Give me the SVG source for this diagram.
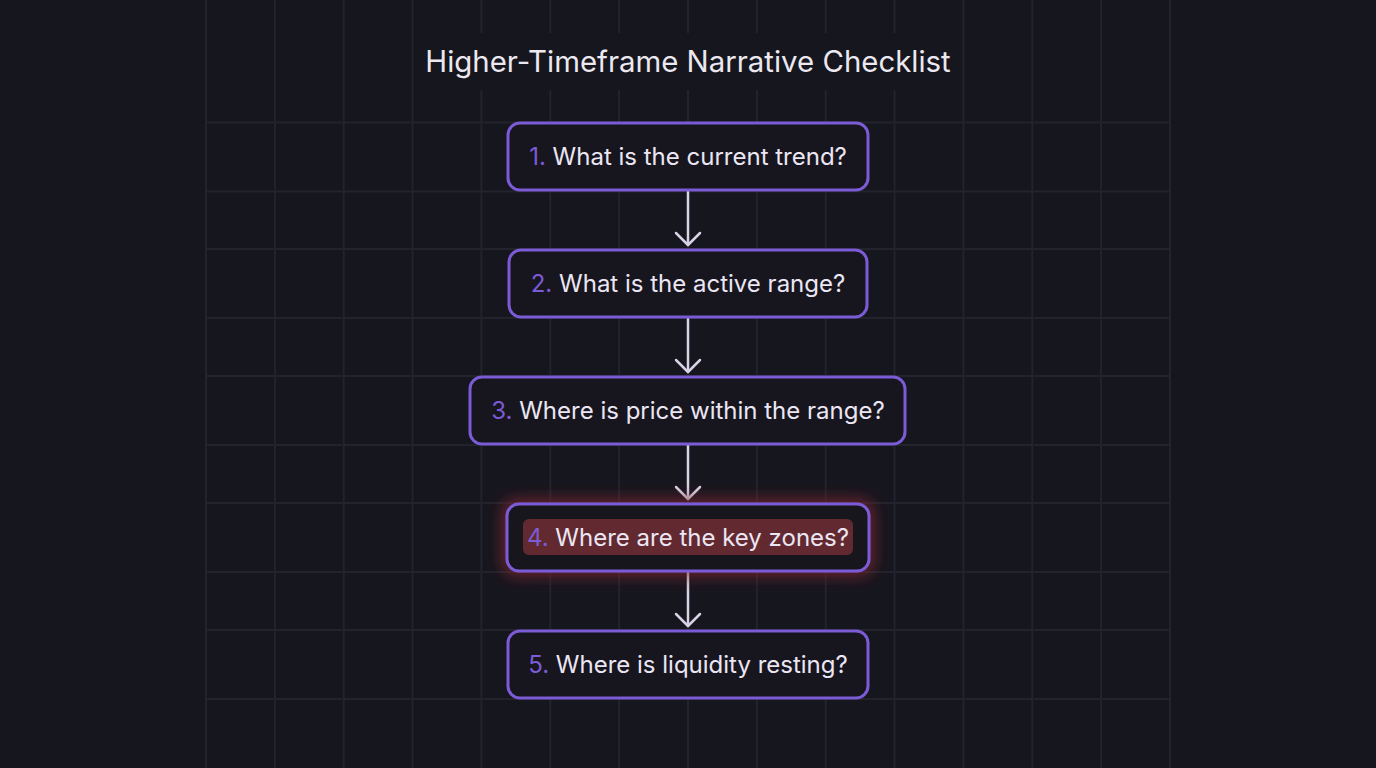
<svg xmlns="http://www.w3.org/2000/svg" width="1376" height="768" viewBox="0 0 1376 768">
  <defs>
    <style>
      .grid line { stroke: #23232d; stroke-width: 2; }
      .node { fill: #17161f; stroke: #7b5bd6; stroke-width: 3; }
      .label { font-family: Inter, "Noto Sans", "Liberation Sans", sans-serif; font-size: 24px; font-weight: 400; fill: #ece6f4; text-anchor: middle; }
      .num { fill: #7b5bd6; }
      .title { font-family: Inter, "Noto Sans", "Liberation Sans", sans-serif; font-size: 29.4px; font-weight: 400; fill: #ece8f0; text-anchor: middle; }
      .conn line, .conn polyline { stroke: #d9d1e6; stroke-width: 2.5; fill: none; stroke-linecap: round; stroke-linejoin: round; }
    </style>
    <filter id="glow2" x="-20%" y="-60%" width="140%" height="220%">
      <feMorphology in="SourceAlpha" operator="dilate" radius="3" result="d"/>
      <feGaussianBlur in="d" stdDeviation="8" result="b"/>
      <feFlood flood-color="#7e2630" flood-opacity="0.85"/>
      <feComposite operator="in" in2="b" result="g"/>
      <feMerge><feMergeNode in="g"/><feMergeNode in="SourceGraphic"/></feMerge>
    </filter>
  </defs>

  <rect x="0" y="0" width="1376" height="768" fill="#16161e"/>

  <g class="grid" id="grid">
    <line x1="206" y1="0" x2="206" y2="768"/>
    <line x1="274.9" y1="0" x2="274.9" y2="768"/>
    <line x1="343.7" y1="0" x2="343.7" y2="768"/>
    <line x1="412.6" y1="0" x2="412.6" y2="768"/>
    <line x1="481.4" y1="0" x2="481.4" y2="768"/>
    <line x1="550.3" y1="0" x2="550.3" y2="768"/>
    <line x1="619.1" y1="0" x2="619.1" y2="768"/>
    <line x1="688" y1="0" x2="688" y2="768"/>
    <line x1="756.9" y1="0" x2="756.9" y2="768"/>
    <line x1="825.7" y1="0" x2="825.7" y2="768"/>
    <line x1="894.6" y1="0" x2="894.6" y2="768"/>
    <line x1="963.4" y1="0" x2="963.4" y2="768"/>
    <line x1="1032.3" y1="0" x2="1032.3" y2="768"/>
    <line x1="1101.1" y1="0" x2="1101.1" y2="768"/>
    <line x1="1170" y1="0" x2="1170" y2="768"/>
    <line x1="206" y1="122.5" x2="1170" y2="122.5"/>
    <line x1="206" y1="191.5" x2="1170" y2="191.5"/>
    <line x1="206" y1="249" x2="1170" y2="249"/>
    <line x1="206" y1="318" x2="1170" y2="318"/>
    <line x1="206" y1="376" x2="1170" y2="376"/>
    <line x1="206" y1="445" x2="1170" y2="445"/>
    <line x1="206" y1="503" x2="1170" y2="503"/>
    <line x1="206" y1="572" x2="1170" y2="572"/>
    <line x1="206" y1="630" x2="1170" y2="630"/>
    <line x1="206" y1="699" x2="1170" y2="699"/>
  </g>

  <g id="title">
    <rect x="418" y="33" width="540" height="57" fill="#16161e"/>
    <text class="title" x="688" y="72">Higher-Timeframe Narrative Checklist</text>
  </g>

  <g class="conn" id="connectors">
    <line x1="688" y1="192" x2="688" y2="245"/>
    <polyline points="676,233 688,245 700,233"/>
    <line x1="688" y1="319" x2="688" y2="372"/>
    <polyline points="676,360 688,372 700,360"/>
    <line x1="688" y1="445" x2="688" y2="499"/>
    <polyline points="676,487 688,499 700,487"/>
    <line x1="688" y1="572" x2="688" y2="626"/>
    <polyline points="676,614 688,626 700,614"/>
  </g>

  <g id="node1">
    <rect class="node" x="508" y="123" width="360" height="67" rx="12"/>
    <text class="label" x="688" y="165"><tspan class="num">1.</tspan> What is the current trend?</text>
  </g>

  <g id="node2">
    <rect class="node" x="509" y="250" width="358" height="67" rx="12"/>
    <text class="label" x="688" y="292"><tspan class="num">2.</tspan> What is the active range?</text>
  </g>

  <g id="node3">
    <rect class="node" x="470" y="377" width="435" height="67" rx="12"/>
    <text class="label" x="688" y="419"><tspan class="num">3.</tspan> Where is price within the range?</text>
  </g>

  <g id="node4">
    <rect class="node" x="507" y="504" width="362" height="67" rx="12" filter="url(#glow2)"/>
    <rect x="523" y="519" width="330" height="36" rx="6" fill="#622a30"/>
    <text class="label" x="688" y="546"><tspan class="num">4.</tspan> Where are the key zones?</text>
  </g>

  <g id="node5">
    <rect class="node" x="508" y="631" width="360" height="67" rx="12"/>
    <text class="label" x="688" y="673"><tspan class="num">5.</tspan> Where is liquidity resting?</text>
  </g>
</svg>
